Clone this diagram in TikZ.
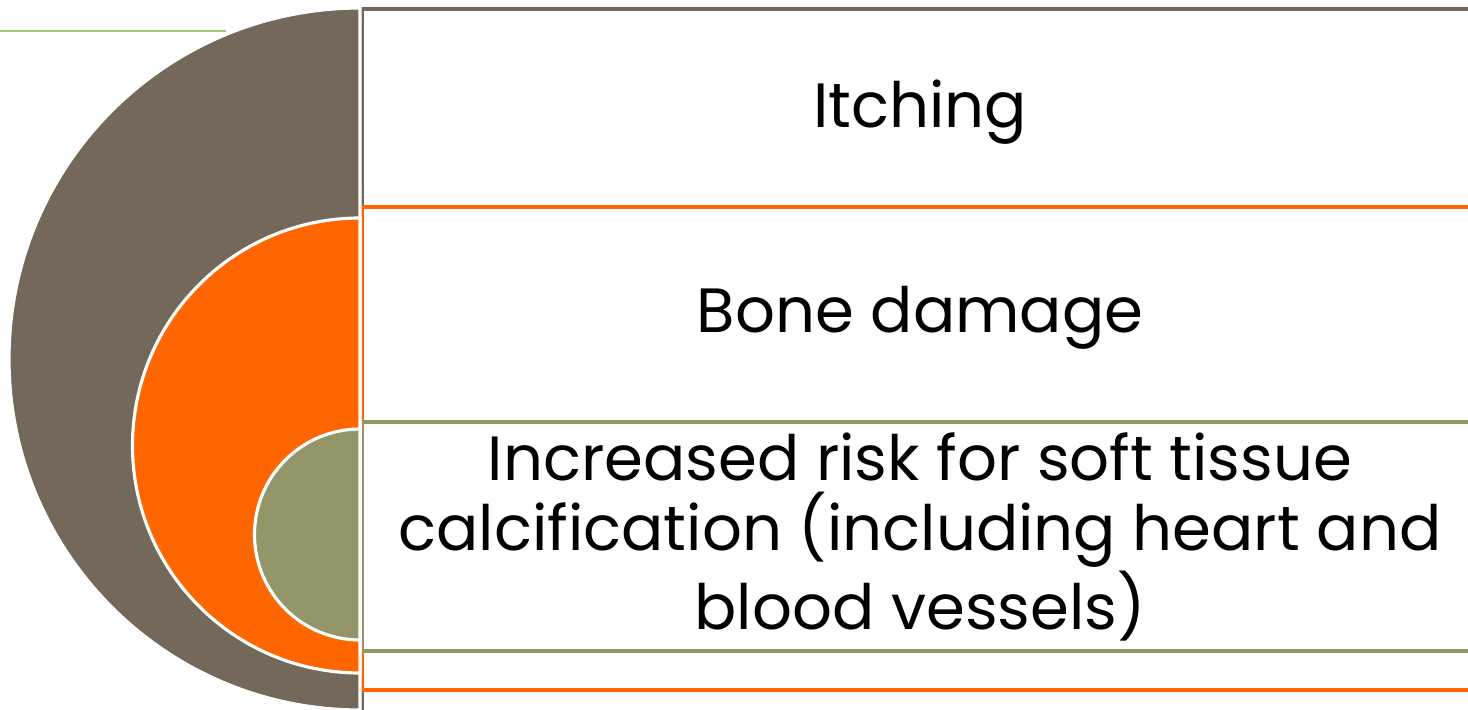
\documentclass[tikz,border=0pt]{standalone}
\usepackage{fontspec}
\setmainfont{Poppins}
\usetikzlibrary{positioning}
\definecolor{taupe}{RGB}{115,104,89}
\definecolor{flame}{RGB}{255,102,0}
\definecolor{sage}{RGB}{148,149,104}
\definecolor{leaf}{RGB}{160,200,110}
\tikzset{
  tierbox/.style={draw=#1,line width=1.1pt,fill=white,rectangle,
                  anchor=north west,inner sep=0pt},
  tierdisc/.style={fill=#1,draw=white,line width=0.9pt},
  tiertext/.style={font=\fontsize{17.8}{20}\selectfont,align=center,text=black},
}

\begin{document}
\begin{tikzpicture}
  \useasboundingbox (0,0) rectangle (14.68,7.09);
  \clip (0,0) rectangle (14.68,7.09);
  % faint guide line of the slide
  \draw[leaf,line width=0.4pt] (0,6.78) -- (2.26,6.78);
  % boxes on the right
  \node[tierbox=taupe,minimum width=11.2cm,minimum height=7.6cm] (itchbox) at (3.60,7.02) {};
  \node[tierbox=flame,minimum width=11.2cm,minimum height=4.83cm] (bonebox) at (3.60,5.04) {};
  \node[tierbox=sage,minimum width=11.2cm,minimum height=2.29cm] (riskbox) at (3.60,2.89) {};
  % nested half discs
  \filldraw[tierdisc=taupe] (3.60,7.01) arc[start angle=90,end angle=270,radius=3.51] -- cycle;
  \filldraw[tierdisc=flame] (3.60,4.91) arc[start angle=90,end angle=270,radius=2.275] -- cycle;
  \filldraw[tierdisc=sage] (3.60,2.80) arc[start angle=90,end angle=270,radius=1.055] -- cycle;
  % labels
  \node[tiertext] (itch) at (9.20,5.97) {Itching};
  \node[tiertext] (bone) at (9.20,3.91) {Bone damage};
  \node[tiertext] (risk) at (9.20,1.72) {Increased risk for soft tissue\\calcification (including heart and\\blood vessels)};
\end{tikzpicture}
\end{document}
